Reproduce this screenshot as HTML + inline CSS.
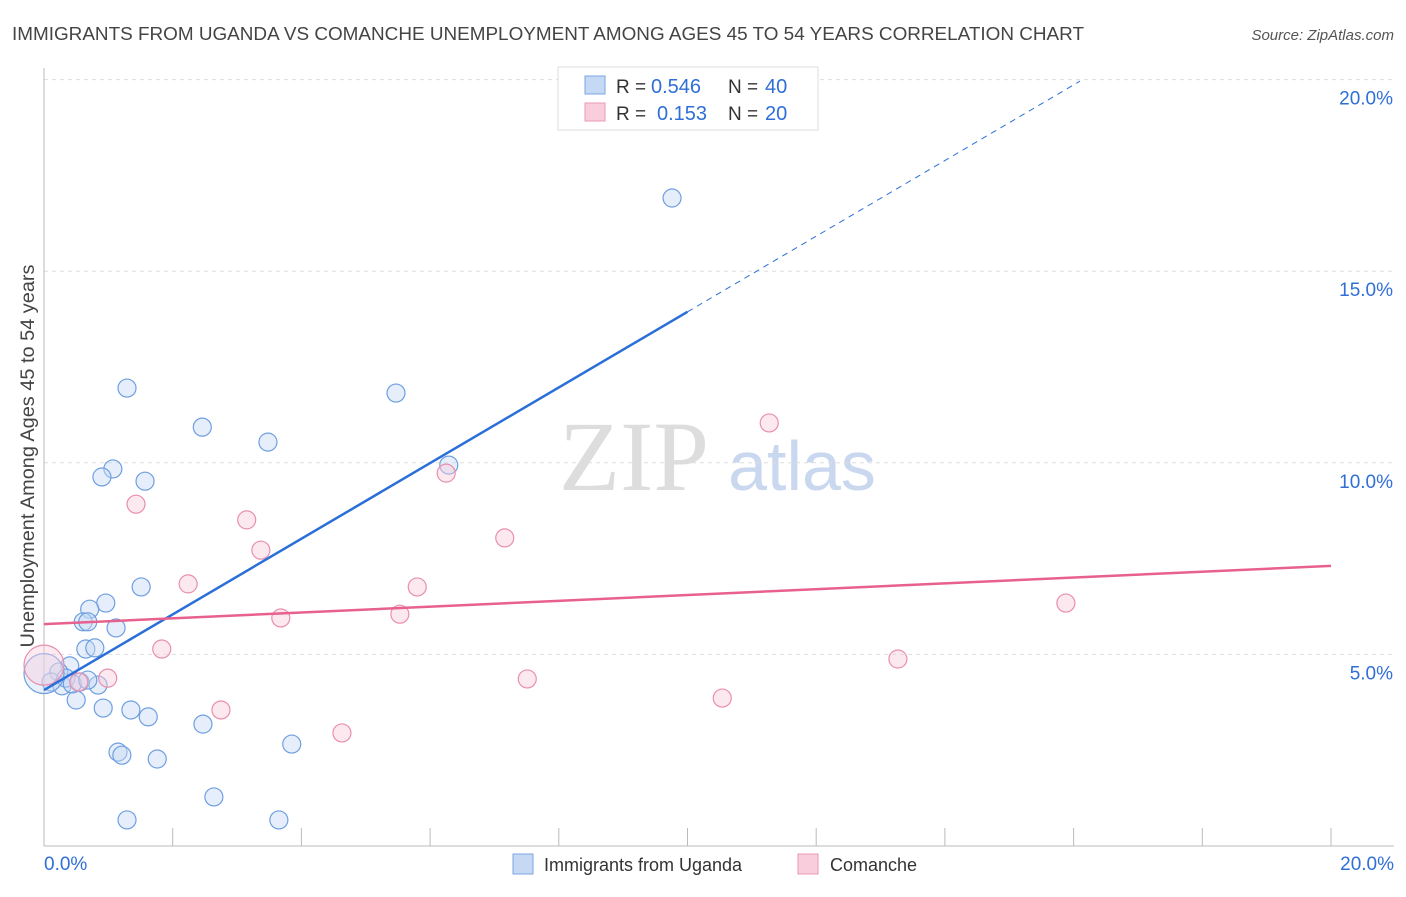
<!DOCTYPE html>
<html><head><meta charset="utf-8"><style>
body{margin:0;background:#fff;font-family:"Liberation Sans",sans-serif}
</style></head><body>
<svg width="1406" height="892" xmlns="http://www.w3.org/2000/svg" font-family="Liberation Sans, sans-serif">
<text x="12" y="40" font-size="18" fill="#444" textLength="1072" lengthAdjust="spacingAndGlyphs">IMMIGRANTS FROM UGANDA VS COMANCHE UNEMPLOYMENT AMONG AGES 45 TO 54 YEARS CORRELATION CHART</text>
<text x="1394" y="40" font-size="15" fill="#555" font-style="italic" text-anchor="end">Source: ZipAtlas.com</text>
<text x="634" y="490" font-size="100" fill="#ddd" style="font-family:'Liberation Serif',serif" text-anchor="middle">ZIP</text>
<text x="802" y="490" font-size="70" fill="#c9d8ef" text-anchor="middle">atlas</text>
<g id="grid"></g>
<g id="axes"></g>
<text transform="translate(34,456) rotate(-90)" font-size="19" fill="#444" text-anchor="middle" textLength="383" lengthAdjust="spacingAndGlyphs">Unemployment Among Ages 45 to 54 years</text>
<g id="marks"></g>
<g>
<rect x="558" y="67" width="260" height="63" fill="#fff" stroke="#ddd"/>
<rect x="585" y="76" width="20" height="18" fill="#c5d9f5" stroke="#7aa5e0"/>
<rect x="585" y="103" width="20" height="18" fill="#f9cddb" stroke="#ec9ab5"/>
<text x="616" y="93" font-size="19" fill="#333">R =</text>
<text x="651" y="93" font-size="20" fill="#2f6fd6">0.546</text>
<text x="728" y="93" font-size="19" fill="#333">N =</text>
<text x="765" y="93" font-size="20" fill="#2f6fd6">40</text>
<text x="616" y="120" font-size="19" fill="#333">R =</text>
<text x="657" y="120" font-size="20" fill="#2f6fd6">0.153</text>
<text x="728" y="120" font-size="19" fill="#333">N =</text>
<text x="765" y="120" font-size="20" fill="#2f6fd6">20</text>
</g>
<g>
<rect x="513" y="854" width="20" height="20" fill="#c5d9f5" stroke="#7aa5e0"/>
<text x="544" y="871" font-size="18" fill="#333">Immigrants from Uganda</text>
<rect x="798" y="854" width="20" height="20" fill="#f9cddb" stroke="#ec9ab5"/>
<text x="830" y="871" font-size="18" fill="#333">Comanche</text>
</g>
</svg>
<script>
const yTicks=[5,10,15,20];
const yTickLabels=["5.0%","10.0%","15.0%","20.0%"];
const xTickLabels=["0.0%","20.0%"];
const blueX=[9.76,1.29,5.47,2.46,3.48,6.29,1.07,0.90,1.57,1.51,0.96,0.71,0.61,0.68,1.12,0.65,0.79,0.40,0.23,0.84,0.56,0.11,0.28,0.50,0.92,1.35,1.62,2.47,1.15,1.21,1.76,3.85,2.64,1.29,3.65,0.34,0.44,0.68,0.0];
const blueY=[16.91,11.95,11.82,10.93,10.54,9.94,9.84,9.63,9.52,6.76,6.34,6.18,5.85,5.85,5.69,5.14,5.17,4.70,4.54,4.20,4.28,4.28,4.18,3.81,3.60,3.55,3.37,3.18,2.45,2.37,2.27,2.66,1.28,0.68,0.68,4.38,4.23,4.33,4.5];
const pinkX=[11.27,6.25,1.43,3.15,3.37,7.16,2.24,5.80,3.68,5.53,1.83,13.27,15.88,0.99,0.54,7.51,2.75,10.54,4.63,0.0];
const pinkY=[11.04,9.73,8.92,8.51,7.72,8.04,6.84,6.76,5.95,6.05,5.14,4.88,6.34,4.38,4.28,4.36,3.55,3.86,2.95,4.72];
const blueTrend=[4.07,0.987];
const pinkTrend=[5.79,0.076];
const NS="http://www.w3.org/2000/svg";
const X=v=>44+v/20*1287, Y=v=>846-v/5*191.6;
function mk(p,t,a){const e=document.createElementNS(NS,t);for(const k in a)e.setAttribute(k,a[k]);document.getElementById(p).appendChild(e);return e;}
yTicks.forEach((t,i)=>{
 const l=mk('grid','line',{x1:44,x2:1394,y1:Y(t),y2:Y(t),stroke:'#ddd','stroke-dasharray':'4,4'});
 
 
 const tx=mk('grid','text',{x:1393,y:Y(t)+25,'font-size':19,fill:'#2f6fd6','text-anchor':'end'});
 tx.textContent=yTickLabels[i];
 
 
});
mk('axes','line',{x1:44,x2:44,y1:68,y2:846,stroke:'#bbb'});
mk('axes','line',{x1:44,x2:1394,y1:846,y2:846,stroke:'#bbb'});
for(let i=0;i<=10;i++){const t=mk('axes','line',{x1:X(i*2),x2:X(i*2),y1:828,y2:846,stroke:'#bbb'});
 
 }
[[0,'start',44],[20,'end',1394]].forEach((d,i)=>{const t=mk('axes','text',{x:d[2],y:870,'font-size':19,fill:'#2f6fd6','text-anchor':d[1]});t.textContent=xTickLabels[i];
 
 });
function pts(xs,ys,fill,stroke,name){xs.forEach((x,i)=>{const big=(x===0);
 const c=mk('marks','circle',{cx:X(x),cy:Y(ys[i]),r:big?20:9,fill:fill,'fill-opacity':big?0.4:0.45,stroke:stroke,'stroke-width':1.2});
 
 });}
pts(blueX,blueY,'#c5d9f5','#6f9fe0','uganda-point');
pts(pinkX,pinkY,'#f9cddb','#e98fad','comanche-point');
let l=mk('marks','line',{x1:X(0),y1:Y(blueTrend[0]),x2:X(10),y2:Y(blueTrend[0]+blueTrend[1]*10),stroke:'#2a6fd8','stroke-width':2.5});


l=mk('marks','line',{x1:X(10),y1:Y(blueTrend[0]+blueTrend[1]*10),x2:X(16.1),y2:Y(blueTrend[0]+blueTrend[1]*16.1),stroke:'#2a6fd8','stroke-width':1,'stroke-dasharray':'6,5'});


l=mk('marks','line',{x1:X(0),y1:Y(pinkTrend[0]),x2:X(20),y2:Y(pinkTrend[0]+pinkTrend[1]*20),stroke:'#e8608d','stroke-width':2.5});


</script>
</body></html>
